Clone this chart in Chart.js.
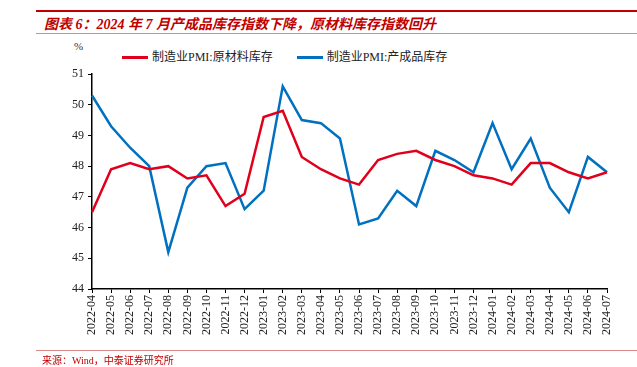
<!DOCTYPE html>
<html>
<head>
<meta charset="utf-8">
<script src="https://cdn.jsdelivr.net/npm/chart.js@4"></script>
<style>
  body { margin: 0; width: 637px; height: 367px; background: #fff; position: relative; overflow: hidden; font-family: "Liberation Serif", "Noto Sans CJK SC", serif; }
  #wrap { position: absolute; left: 0; top: 0; width: 637px; height: 367px; }
  .rule { position: absolute; left: 36px; right: 0; }
  #title { position: absolute; left: 44px; top: 13px; font-size: 14px; font-style: italic; font-weight: bold; color: #C00000; white-space: nowrap; }
  #pct { position: absolute; left: 74px; top: 40px; font-size: 11px; color: #333; }
  #legend { position: absolute; left: 122px; top: 47px; font-size: 12px; color: #222; white-space: nowrap; }
  #legend span.sw { display: inline-block; width: 26px; height: 3px; vertical-align: middle; margin-right: 4px; position: relative; top: -1px; }
  #legend span.item { margin-right: 21px; }
  #source { position: absolute; left: 42px; top: 352px; font-size: 10px; color: #C00000; white-space: nowrap; }
</style>
</head>
<body>
<div class="rule" style="top:10px;height:2px;background:#C00000"></div>
<div id="title">图表 6：2024 年 7 月产成品库存指数下降，原材料库存指数回升</div>
<div class="rule" style="top:33px;height:1px;background:#D88"></div>
<div id="pct">%</div>
<div id="legend">
  <span class="item"><span class="sw" style="background:#E0001B"></span>制造业PMI:原材料库存</span>
  <span class="item"><span class="sw" style="background:#0070C0"></span>制造业PMI:产成品库存</span>
</div>
<div id="wrap"><canvas id="c" width="637" height="367"></canvas></div>
<div class="rule" style="top:350px;height:1px;background:#D88"></div>
<div id="source">来源：Wind，中泰证券研究所</div>
<script>
// monthly PMI inventory sub-indices
const months = [
  '2022-04','2022-05','2022-06','2022-07','2022-08','2022-09','2022-10','2022-11','2022-12',
  '2023-01','2023-02','2023-03','2023-04','2023-05','2023-06','2023-07','2023-08','2023-09',
  '2023-10','2023-11','2023-12','2024-01','2024-02','2024-03','2024-04','2024-05','2024-06','2024-07'
];
const rawMaterial = [46.5, 47.9, 48.1, 47.9, 48.0, 47.6, 47.7, 46.7, 47.1,
  49.6, 49.8, 48.3, 47.9, 47.6, 47.4, 48.2, 48.4, 48.5,
  48.2, 48.0, 47.7, 47.6, 47.4, 48.1, 48.1, 47.8, 47.6, 47.8];
const finishedGoods = [50.3, 49.3, 48.6, 48.0, 45.2, 47.3, 48.0, 48.1, 46.6,
  47.2, 50.6, 49.5, 49.4, 48.9, 46.1, 46.3, 47.2, 46.7,
  48.5, 48.2, 47.8, 49.4, 47.9, 48.9, 47.3, 46.5, 48.3, 47.8];

const tickFont = { family: '"Liberation Serif", serif', size: 12 };

new Chart(document.getElementById('c'), {
  type: 'line',
  data: {
    labels: months,
    datasets: [
      { label: '制造业PMI:原材料库存', data: rawMaterial, borderColor: '#E0001B', borderWidth: 2.5, pointRadius: 0, tension: 0 },
      { label: '制造业PMI:产成品库存', data: finishedGoods, borderColor: '#0070C0', borderWidth: 2.5, pointRadius: 0, tension: 0 }
    ]
  },
  options: {
    responsive: false,
    animation: false,
    layout: { padding: { top: 74, right: 30, left: 0, bottom: 0 } },
    plugins: { legend: { display: false }, tooltip: { enabled: false } },
    scales: {
      x: {
        offset: false,
        grid: { display: true, drawOnChartArea: false, drawTicks: true, tickLength: 4, color: '#000' },
        border: { display: true, color: '#000', width: 1.5 },
        ticks: { color: '#222', font: { family: '"Liberation Serif", serif', size: 12 }, minRotation: 90, maxRotation: 90, autoSkip: false, padding: 2 },
        afterFit: s => { s.height = 78; }
      },
      y: {
        min: 44, max: 51,
        grid: { display: true, drawOnChartArea: false, drawTicks: true, tickLength: 4, color: '#000' },
        border: { display: true, color: '#000', width: 1.5 },
        ticks: { stepSize: 1, color: '#222', font: tickFont, padding: 4 },
        afterFit: s => { s.width = 92; }
      }
    }
  }
});
</script>
</body>
</html>
